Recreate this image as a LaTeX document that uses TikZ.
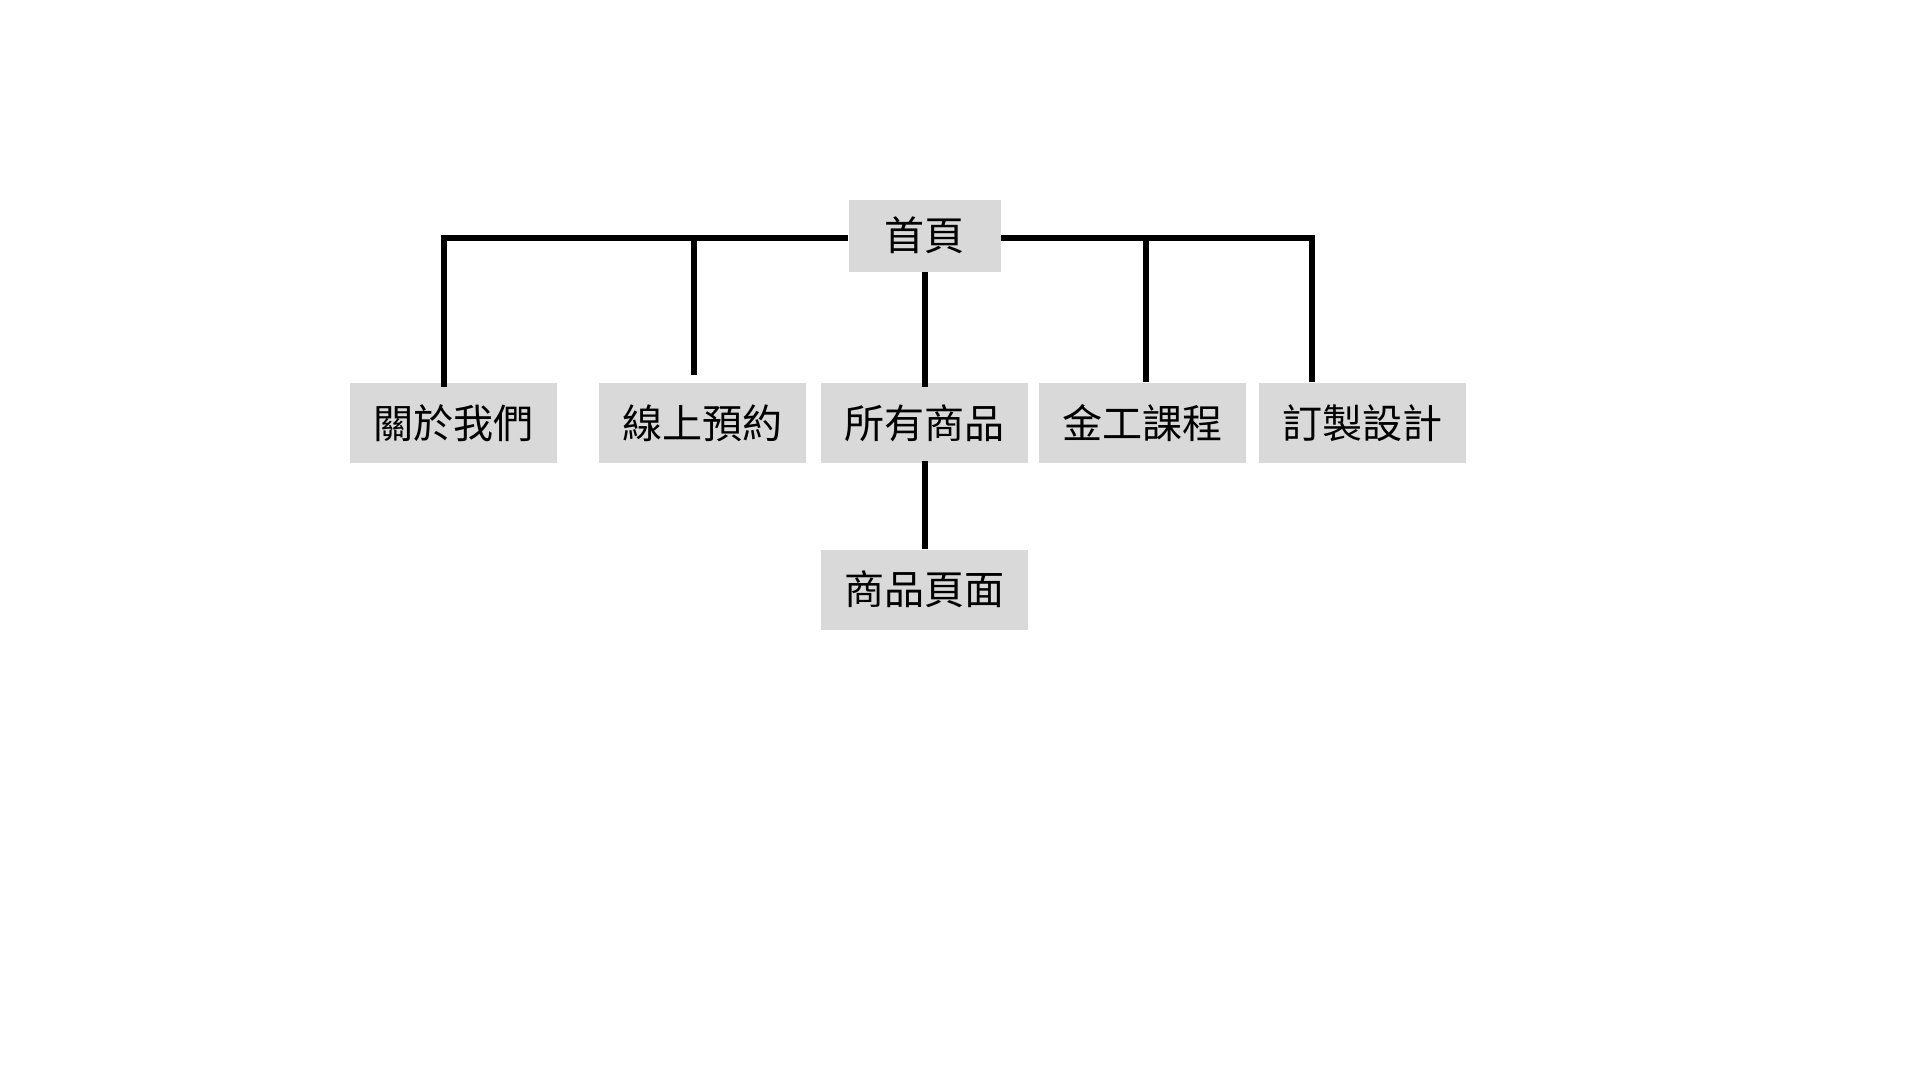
\documentclass[tikz,border=0pt]{standalone}
\usepackage{fontspec}
\usepackage{xcolor}
\usepackage{tikz}
\usetikzlibrary{positioning}
\setmainfont{Noto Sans CJK TC}
\definecolor{boxgray}{HTML}{D9D9D9}

\begin{document}
\begin{tikzpicture}[
    node distance=1cm,
    page/.style={fill=boxgray, inner sep=0pt, minimum width=2.07cm, minimum height=0.8cm, font=\fontsize{11.4pt}{13pt}\selectfont},
    homepage/.style={page, minimum width=1.52cm, minimum height=0.72cm},
    link/.style={line width=1.7pt, black}
]
\useasboundingbox (0,0) rectangle (19.2,10.8);

\node[homepage] (home) at (9.245,8.443) {首頁};

\node[page, below=1.1cm of home] (products) {所有商品};
\node[page, left=0.135cm of products] (booking) {線上預約};
\node[page, left=0.405cm of booking] (about) {關於我們};
\node[page, right=0.098cm of products] (course) {金工課程};
\node[page, right=0.11cm of course] (custom) {訂製設計};

\node[page, below=0.85cm of products] (item) {商品頁面};

\draw[link] ([yshift=-0.26mm]home.west) -| ([xshift=-1mm,yshift=-0.5mm]about.north);
\draw[link] ([xshift=-0.85mm,yshift=0.7mm]booking.north) |- ([yshift=-0.26mm]home.west);
\draw[link] (home.south) -- ([yshift=-0.5mm]products.north);
\draw[link] ([yshift=-0.26mm]home.east) -| ([xshift=-5mm]custom.north);
\draw[link] ([xshift=0.3mm]course.north) |- ([yshift=-0.26mm]home.east);

\draw[link] ([yshift=0.3mm]products.south) -- (item.north);

\end{tikzpicture}
\end{document}
